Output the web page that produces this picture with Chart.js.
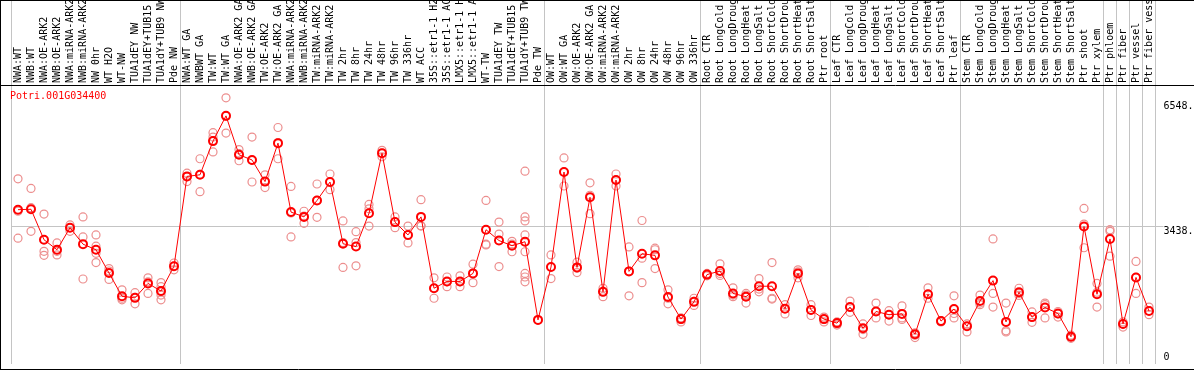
<!DOCTYPE html>
<html>
<head>
<meta charset="utf-8">
<script src="https://cdn.jsdelivr.net/npm/chart.js@4.4.0/dist/chart.umd.min.js"></script>
<style>
  html, body { margin: 0; padding: 0; background: #fff; }
</style>
</head>
<body>
<canvas id="myChart" width="1194" height="370"></canvas>
<script>
// gene shown in the panel
const geneId = 'Potri.001G034400';

const categories = [
    'NWA:WT', 'NWB:WT', 'NWA:OE-ARK2', 'NWB:OE-ARK2', 'NWA:miRNA-ARK2', 'NWB:miRNA-ARK2',
    'NW 0hr', 'WT H2O', 'WT-NW', 'TUA1dEY NW', 'TUA1dEY+TUB15 NW', 'TUA1dY+TUB9 NW', 'Pde NW',
    'NWA:WT GA', 'NWBWT GA', 'TW:WT', 'TW:WT GA', 'NWA:OE-ARK2 GA', 'NWB:OE-ARK2 GA',
    'TW:OE-ARK2', 'TW:OE-ARK2 GA', 'NWA:miRNA-ARK2', 'NWB:miRNA-ARK2', 'TW:miRNA-ARK2', 'TW:miRNA-ARK2',
    'TW 2hr', 'TW 8hr', 'TW 24hr', 'TW 48hr', 'TW 96hr', 'TW 336hr', 'WT ACC',
    '35S::etr1-1 H2O', '35S::etr1-1 ACC', 'LMX5::etr1-1 H2O', 'LMX5::etr1-1 ACC',
    'WT-TW', 'TUA1dEY TW', 'TUA1dEY+TUB15 TW', 'TUA1dY+TUB9 TW', 'Pde TW',
    'OW:WT', 'OW:WT GA', 'OW:OE-ARK2', 'OW:OE-ARK2 GA', 'OW:miRNA-ARK2', 'OW:miRNA-ARK2',
    'OW 2hr', 'OW 8hr', 'OW 24hr', 'OW 48hr', 'OW 96hr', 'OW 336hr',
    'Root CTR', 'Root LongCold', 'Root LongDrought', 'Root LongHeat', 'Root LongSalt',
    'Root ShortCold', 'Root ShortDrought', 'Root ShortHeat', 'Root ShortSalt', 'Ptr root',
    'Leaf CTR', 'Leaf LongCold', 'Leaf LongDrought', 'Leaf LongHeat', 'Leaf LongSalt',
    'Leaf ShortCold', 'Leaf ShortDrought', 'Leaf ShortHeat', 'Leaf ShortSalt', 'Ptr leaf',
    'Stem CTR', 'Stem LongCold', 'Stem LongDrought', 'Stem LongHeat', 'Stem LongSalt',
    'Stem ShortCold', 'Stem ShortDrought', 'Stem ShortHeat', 'Stem ShortSalt', 'Ptr shoot',
    'Ptr xylem', 'Ptr phloem', 'Ptr fiber', 'Ptr vessel', 'Ptr fiber vessel'
];

// mean expression per sample (the red line)
const meanValues = [
    3850, 3860, 3100, 2850, 3400, 2990, 2850, 2270, 1690, 1650,
    2010, 1820, 2440, 4680, 4720, 5560, 6190, 5220, 5090, 4550,
    5510, 3790, 3670, 4080, 4540, 3000, 2930, 3760, 5260, 3540,
    3220, 3670, 1890, 2060, 2060, 2260, 3350, 3080, 2950, 3050,
    1100, 2420, 4790, 2410, 4160, 1800, 4590, 2310, 2750, 2710,
    1670, 1120, 1550, 2230, 2320, 1760, 1680, 1940, 1940, 1380,
    2260, 1350, 1120, 1020, 1420, 890, 1310, 1230, 1250, 740,
    1740, 1070, 1370, 940, 1570, 2080, 1050, 1790, 1170, 1410,
    1260, 680, 3430, 1740, 3120, 1000, 2160, 1320
];

// single replicates per sample (pale circles)
const replicateValues = [
    [4620, 3810, 3140], [4380, 3900, 3310], [3740, 2810, 2710], [3020, 2810, 2720],
    [3470, 3400, 3310], [3670, 3170, 2120], [3220, 2940, 2760, 2530], [2380, 2320, 2110],
    [1850, 1640, 1600], [1780, 1660, 1500], [2150, 2050, 1760], [2030, 1930, 1800, 1720, 1600],
    [2520, 2440, 2350], [4760, 4670, 4550], [5120, 4730, 4300], [5770, 5660, 5290],
    [6640, 6180, 5760], [5350, 5250, 5070], [5660, 5080, 4540], [4720, 4550, 4400],
    [5900, 5520, 5120], [4430, 3770, 3170], [3810, 3690, 3510], [4490, 4080, 3660],
    [4740, 4540, 4350], [3570, 3030, 2410], [3300, 3030, 2450], [3980, 3870, 3440],
    [5330, 5260, 5170], [3670, 3540, 3400], [3440, 3220, 3020], [4100, 3450, 3440],
    [2150, 1890, 1640], [2170, 2050, 1930], [2200, 2050, 1930], [2490, 2260, 2030],
    [4080, 2990, 2970], [3540, 3240, 2430], [3060, 2990, 2800],
    [4810, 3670, 3570, 3220, 2800, 2260, 2170, 2050],
    [1100], [2720, 2420, 2130], [5140, 4790, 4440], [2540, 2390, 2280],
    [4520, 4210, 3750], [1890, 1800, 1680], [4740, 4590, 4440], [2920, 2320, 1700],
    [3580, 2640, 2030], [2890, 2850, 2380], [1850, 1640, 1500], [1150, 1110, 1050],
    [1640, 1560, 1460], [2260, 2230, 2200], [2500, 2260, 2210], [1900, 1720, 1680],
    [1760, 1720, 1520], [2130, 1870, 1800], [2530, 1640, 1620], [1480, 1380, 1250],
    [2350, 2300, 2150], [1480, 1350, 1210], [1170, 1110, 1050], [1050, 1000, 970],
    [1570, 1410, 1290], [1000, 860, 740], [1520, 1310, 1150], [1330, 1230, 1070],
    [1450, 1150, 1110], [780, 720, 660], [1900, 1740, 1640], [1080, 1070, 1050],
    [1700, 1260, 1150], [1000, 940, 800], [1720, 1520, 1480], [3120, 1760, 1420],
    [1520, 830, 800], [1890, 1760, 1710], [1300, 1170, 1040], [1520, 1480, 1150],
    [1310, 1250, 1170], [720, 680, 640], [3880, 3490, 2900], [2010, 1790, 1420],
    [3350, 3310, 2690], [1050, 1000, 920], [2560, 2160, 1760], [1420, 1330, 1230]
];

const yTickValues = [0, 3438, 6548];
const yTickLabels = ['0', '3438.', '6548.'];
// sample index where a new group starts (grey separators)
const groupStarts = [0, 13, 41, 53, 63, 73, 84, 85, 86, 87, 88];

const monoFont = '"DejaVu Sans Mono", monospace';
const sepGrey = '#c4c4c4';

function buildReplicateSets() {
    var sets = [];
    var maxReps = Math.max.apply(null, replicateValues.map(r => r.length));
    for (var k = 0; k < maxReps; k++) {
        sets.push({
            data: replicateValues.map(r => (k < r.length ? r[k] : null)),
            showLine: false,
            pointRadius: 4,
            pointBorderWidth: 1.2,
            pointBorderColor: 'rgb(236,142,142)',
            pointBackgroundColor: 'rgba(0,0,0,0)'
        });
    }
    return sets;
}

// title, y labels and black frame
const panelDecor = {
    id: 'panelDecor',
    afterDraw(chart) {
        const ctx = chart.ctx;
        const ys = chart.scales.y;
        ctx.save();
        ctx.font = '10px ' + monoFont;
        ctx.textAlign = 'left';
        ctx.textBaseline = 'middle';
        ctx.fillStyle = '#000';
        yTickValues.forEach(function (v, i) {
            var py = ys.getPixelForValue(v);
            var ty = py + 5 > chart.height - 6 ? py - 6.5 : py + 5;
            ctx.fillText(yTickLabels[i], ys.left + 8, ty);
        });
        ctx.fillStyle = '#ff0000';
        ctx.fillText(geneId, 10, 96.5);

        ctx.strokeStyle = '#000';
        ctx.lineWidth = 1;
        ctx.beginPath();
        ctx.moveTo(0, 0.5); ctx.lineTo(chart.width, 0.5);
        ctx.moveTo(0.5, 0); ctx.lineTo(0.5, chart.height);
        ctx.moveTo(0, 85.5); ctx.lineTo(chart.width, 85.5);
        ctx.moveTo(0, 369.5); ctx.lineTo(chart.width, 369.5);
        ctx.stroke();
        ctx.restore();
    }
};

function drawChart() {
    const ctx = document.getElementById('myChart').getContext('2d');
    var meanSet = {
        data: meanValues,
        borderColor: '#ff0000',
        borderWidth: 1,
        tension: 0,
        pointRadius: 4,
        pointBorderWidth: 2,
        pointBorderColor: '#ff0000',
        pointBackgroundColor: 'rgba(0,0,0,0)'
    };
    var config = {
        type: 'line',
        data: {
            labels: categories,
            datasets: [meanSet].concat(buildReplicateSets())
        },
        options: {
            responsive: false,
            animation: false,
            events: [],
            layout: { padding: { left: 11.5, right: 0, top: 0, bottom: 2 } },
            plugins: { legend: { display: false }, tooltip: { enabled: false } },
            scales: {
                x: {
                    type: 'category',
                    position: 'top',
                    offset: true,
                    grid: {
                        offset: true,
                        color: c => (c.index === undefined || groupStarts.includes(c.index)) ? sepGrey : 'rgba(0,0,0,0)',
                        tickLength: 85
                    },
                    border: { display: false },
                    ticks: {
                        autoSkip: false,
                        minRotation: 90,
                        maxRotation: 90,
                        padding: -83,
                        labelOffset: 12.5,
                        color: '#000',
                        font: { family: monoFont, size: 10 }
                    },
                    afterFit: s => { s.height = 85; s.paddingLeft = 0; s.paddingRight = 0; }
                },
                y: {
                    position: 'right',
                    min: 0,
                    max: 6960,
                    grid: {
                        color: c => (c.tick && c.tick.value === 3438) ? sepGrey : 'rgba(0,0,0,0)',
                        tickLength: 8
                    },
                    border: { display: false },
                    ticks: { display: false },
                    afterBuildTicks: s => { s.ticks = yTickValues.map(v => ({ value: v })); },
                    afterFit: s => { s.width = 38.5; }
                }
            }
        },
        plugins: [panelDecor]
    };
    new Chart(ctx, config);
}

document.addEventListener('DOMContentLoaded', drawChart);
</script>
</body>
</html>
